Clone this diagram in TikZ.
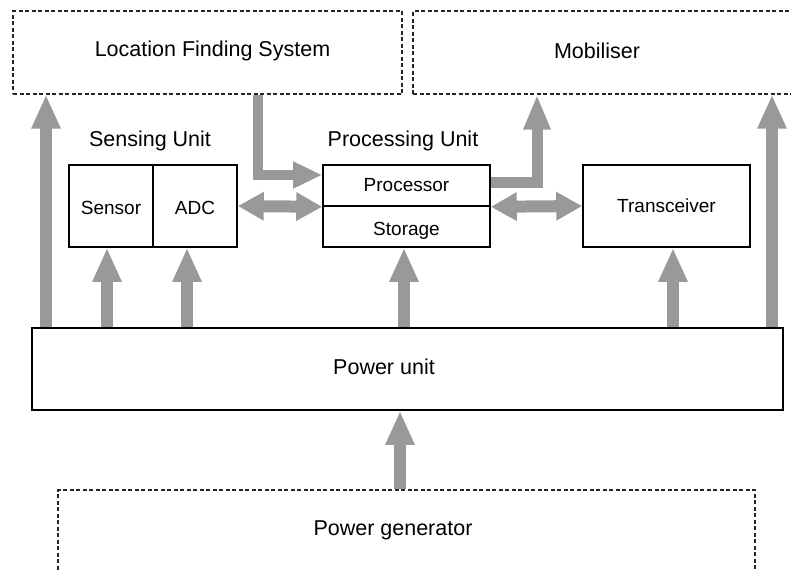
\documentclass[tikz,border=0pt]{standalone}
\usepackage{fontspec}
\setmainfont{Liberation Sans}
\usepackage{tikz,xcolor}
\usetikzlibrary{arrows.meta}
\tikzset{unit/.style={draw=black, line width=1.6pt, inner sep=0pt, font=\fontsize{19}{22}\selectfont},
    low/.style={text height=#1, text depth=0pt},
    outer/.style={draw=black!85, line width=1.2pt, dash pattern=on 4pt off 2.5pt, inner sep=0pt},
    title/.style={font=\fontsize{21.5}{24}\selectfont},
    flow/.style={draw=flow gray, line width=12pt, -{Triangle[width=27pt,length=34pt]}},
    both/.style={flow, {Triangle[width=27pt,length=26pt]}-{Triangle[width=27pt,length=26pt]}}}

\begin{document}
\begin{tikzpicture}[x=1pt, y=-1pt]
    \useasboundingbox (0,0) rectangle (791,571);
    \colorlet{flow gray}{black!40}
    % outer blocks
    \node[outer, minimum width=389pt, minimum height=83pt,
      label={[title, xshift=5pt, yshift=2pt]center:Location Finding System}] (lfs) at (207.5,52.5) {};
    \node[outer, minimum width=387pt, minimum height=83pt,
      label={[title, xshift=-9.5pt, yshift=2pt]center:Mobiliser}] (mob) at (606.5,52.5) {};
    \node[outer, minimum width=697pt, minimum height=84pt,
      label={[title, xshift=-13.5pt, yshift=2pt]center:Power generator}] (gen) at (406.5,532) {};
    % node units
    \node[title] (sensing) at (150,141) {Sensing Unit};
    \node[title] (processing) at (403,141) {Processing Unit};
    \node[unit, low=17.6pt, minimum width=84pt, minimum height=82pt] (sensor) at (111,206) {Sensor};
    \node[unit, low=17.6pt, minimum width=84pt, minimum height=82pt] (adc) at (195,206) {ADC};
    \node[unit, minimum width=167pt, minimum height=41pt] (proc) at (406.5,185.5) {Processor};
    \node[unit, low=18.6pt, minimum width=167pt, minimum height=41pt] (store) at (406.5,226.5) {Storage};
    \node[unit, minimum width=167pt, minimum height=82pt] (trx) at (666.5,206) {Transceiver};
    \node[unit, minimum width=751pt, minimum height=82pt,
      label={[title, xshift=-23.5pt, yshift=2pt]center:Power unit}] (power) at (407.5,369) {};
    % power lines
    \foreach \n/\x in {lfs/46, sen/107, adc/187, sto/404, trx/673, mob/772, gen/400}
      \coordinate (x-\n) at (\x,0);
    \draw[flow] (power.north -| x-lfs) -- (lfs.south -| x-lfs);
    \draw[flow] (power.north -| x-sen) -- (sensor.south -| x-sen);
    \draw[flow] (power.north -| x-adc) -- (adc.south -| x-adc);
    \draw[flow] (power.north -| x-sto) -- (store.south -| x-sto);
    \draw[flow] (power.north -| x-trx) -- (trx.south -| x-trx);
    \draw[flow] (power.north -| x-mob) -- (mob.south -| x-mob);
    \draw[flow] (gen.north -| x-gen) -- (power.south -| x-gen);
    % data lines
    \coordinate (bend-l) at (258,175);
    \coordinate (bend-m) at (537,182);
    \draw[flow, line width=10pt, -{Triangle[width=25pt,length=29pt]}] (lfs.south -| bend-l) |- (proc.west |- bend-l);
    \draw[flow, line width=11pt, -{Triangle[width=25pt,length=35pt]}] (proc.east |- bend-m) -| (mob.south -| bend-m);
    \draw[both] (adc.east) -- (proc.south west);
    \draw[both] (proc.south east) -- (trx.west);
\end{tikzpicture}
\end{document}
